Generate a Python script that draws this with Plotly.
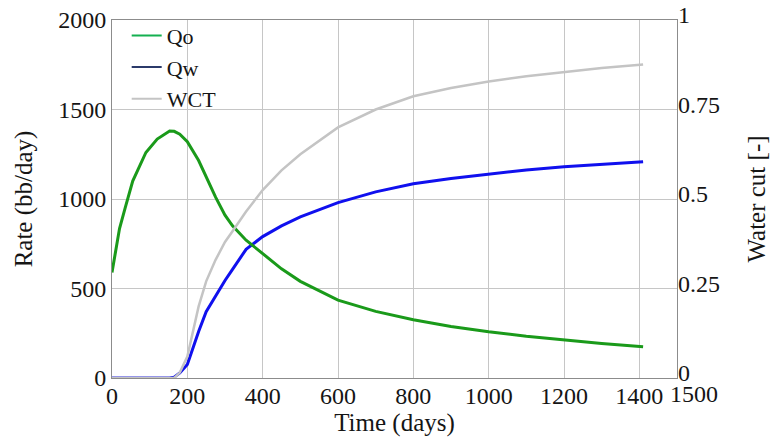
import plotly.graph_objects as go

time_days = [0, 10, 20, 35, 55, 90, 120, 153, 165, 180, 200, 230, 250, 275, 300, 320, 356, 400, 450, 500, 600, 700, 800, 900, 1000, 1100, 1200, 1300, 1410]
qo = [590, 720, 835, 950, 1100, 1260, 1335, 1380, 1378, 1362, 1320, 1215, 1125, 1010, 910, 850, 770, 695, 610, 540, 435, 372, 325, 288, 258, 233, 212, 193, 175]
qw = [0, 0, 0, 0, 0, 0, 0, 0, 5, 28, 75, 260, 370, 460, 545, 607, 719, 790, 850, 900, 980, 1040, 1085, 1115, 1140, 1162, 1180, 1195, 1208]
wct = [0, 0, 0, 0, 0, 0, 0, 0, 0, 0.015, 0.06, 0.2, 0.27, 0.33, 0.38, 0.41, 0.465, 0.525, 0.58, 0.625, 0.70, 0.75, 0.787, 0.81, 0.828, 0.843, 0.855, 0.866, 0.876]

x_ticks = [0, 200, 400, 600, 800, 1000, 1200, 1400]
x_end = 1500
rate_ticks = [0, 500, 1000, 1500, 2000]
wct_ticks = [0, 0.25, 0.5, 0.75, 1]
wct_labels = ["0", "0.25", "0.5", "0.75", "1"]

FONT = "Liberation Serif"
GRID = "#c6c6c6"
FRAME = "#8c8c8c"
TXT = "#151515"
TICKFONT = dict(family=FONT, size=24, color=TXT)
TITLEFONT = dict(family=FONT, size=25, color=TXT)

fig = go.Figure()
fig.add_trace(go.Scatter(x=time_days, y=wct, yaxis="y2", mode="lines",
                         line=dict(color="#c4c4c4", width=2.5), showlegend=False))
fig.add_trace(go.Scatter(x=time_days, y=qw, mode="lines",
                         line=dict(color="#1010ee", width=3), showlegend=False))
fig.add_trace(go.Scatter(x=time_days, y=qo, mode="lines",
                         line=dict(color="#1a9a1a", width=3), showlegend=False))
# legend entries
fig.add_trace(go.Scatter(x=[None], y=[None], mode="lines", name="Qo",
                         line=dict(color="#14b050", width=2)))
fig.add_trace(go.Scatter(x=[None], y=[None], mode="lines", name="Qw",
                         line=dict(color="#2b3a6a", width=2)))
fig.add_trace(go.Scatter(x=[None], y=[None], mode="lines", name="WCT",
                         line=dict(color="#c4c4c4", width=2)))

fig.update_layout(
    width=770, height=441,
    margin=dict(l=112, r=93, t=20, b=63, autoexpand=False),
    paper_bgcolor="white", plot_bgcolor="white",
    font=dict(family=FONT, size=24, color=TXT),
    xaxis=dict(range=[0, x_end], tickvals=x_ticks,
               tickangle=0, tickfont=TICKFONT, ticklabelstandoff=-4,
               showgrid=True, gridcolor=GRID, gridwidth=1,
               showline=True, linecolor=FRAME, linewidth=1, mirror=True,
               zeroline=False, ticks="", ticklen=0,
               title=dict(text="Time (days)", font=TITLEFONT, standoff=0)),
    yaxis=dict(range=[0, 2000], tickvals=rate_ticks, tickfont=TICKFONT,
               showgrid=True, gridcolor=GRID, gridwidth=1,
               showline=True, linecolor=FRAME, linewidth=1, mirror=True,
               zeroline=False, ticks="",
               title=dict(text="Rate (bb/day)", font=TITLEFONT, standoff=18)),
    yaxis2=dict(range=[0, 1], overlaying="y", side="right", tickfont=TICKFONT,
                tickvals=wct_ticks, ticktext=wct_labels, ticklabelshift=-5,
                showgrid=False, zeroline=False, showline=False, ticks="",
                title=dict(text="Water cut [-]", font=TITLEFONT, standoff=28)),
    legend=dict(x=0.026, y=1.015, xanchor="left", yanchor="top",
                bgcolor="rgba(0,0,0,0)", font=dict(family=FONT, size=22, color=TXT),
                tracegroupgap=0, itemwidth=30),
    annotations=[dict(x=x_end, y=0, xref="x", yref="paper", text=str(x_end),
                      showarrow=False, xanchor="left", yanchor="top",
                      xshift=-9, yshift=-1, font=TICKFONT)],
)

fig.write_html("out.html")
